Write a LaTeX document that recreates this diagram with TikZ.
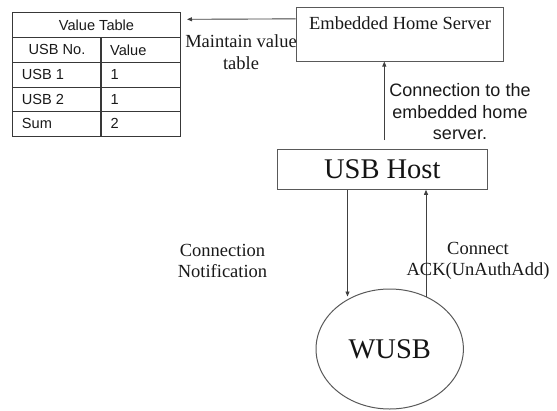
\documentclass[tikz,border=0pt]{standalone}
\usepackage{fontspec}
\setmainfont{Liberation Serif}
\newfontfamily\arial{Liberation Sans}
\usetikzlibrary{arrows.meta,shapes.geometric}

\begin{document}
\begin{tikzpicture}[x=1pt,y=-1pt,
  line/.style={draw=black!65,line width=1pt},
  grid/.style={draw=black!78,line width=1.2pt},
  box/.style={line,rectangle,inner sep=0pt},
  arr/.style={draw=black!75,line width=0.9pt,-{Triangle[length=5pt,width=4pt]}},
  serif/.style={font=\fontsize{18.5}{21.5}\selectfont,text=black!90,align=center,inner sep=0pt},
  sans/.style={font=\arial\fontsize{18}{21.7}\selectfont,text=black!90,align=center,inner sep=0pt},
  big/.style={font=\fontsize{28.5}{32}\selectfont,text=black!92,inner sep=0pt},
  cell/.style={font=\arial\fontsize{14.6}{16}\selectfont,text=black!90,inner sep=0pt}]
\useasboundingbox (0,0) rectangle (557,410);

% value table
\node[inner sep=0pt,minimum width=167.3pt,minimum height=123.3pt] (vt) at (96.35,74.35) {};
\draw[grid] (vt.north west) rectangle (vt.south east);
\draw[grid] (12.7,37.3) -- (180,37.3)
            (12.7,62.3) -- (180,62.3)
            (12.7,87.3) -- (180,87.3)
            (12.7,111.7) -- (180,111.7)
            (101,37.3) -- (101,136);
\node[cell] (title) at (96.5,25) {Value Table};
\node[cell] (h1) at (57,49.8) {USB No.};
\node[cell,anchor=west] (h2) at (110,49.8) {Value};
\node[cell,anchor=west] (r1a) at (21.7,74.8) {USB 1};
\node[cell,anchor=west] (r1b) at (110.5,74.8) {1};
\node[cell,anchor=west] (r2a) at (21.7,99.5) {USB 2};
\node[cell,anchor=west] (r2b) at (110.5,99.5) {1};
\node[cell,anchor=west] (r3a) at (21.7,123.8) {Sum};
\node[cell,anchor=west] (r3b) at (110.5,123.8) {2};

% server, host and wireless device
\node[box,minimum width=207pt,minimum height=53.7pt] (server) at (399.7,34.2) {};
\node[serif] (servertxt) at (400,23.5) {Embedded Home Server};
\node[box,big,minimum width=210pt,minimum height=40pt] (host) at (382.3,169.3) {USB Host};
\node[line,ellipse,big,minimum width=147.4pt,minimum height=120pt] (wusb) at (389.7,349) {WUSB};

% connectors
\coordinate (tabtip) at (187,19.3);
\draw[arr] ([yshift=-12pt]server.north west) -- (tabtip);
\coordinate (hostup) at (384.3,140);
\draw[arr] (hostup) -- (hostup |- server.south);
\coordinate (notetip) at (347.5,296.5);
\draw[arr] (notetip |- host.south) -- (notetip);
\coordinate (ackfoot) at (426,297);
\draw[arr] (ackfoot) -- (ackfoot |- host.south);

% labels
\node[serif] (maintain) at (241,52.3) {Maintain value\\table};
\node[sans] (conn) at (460,111.7) {Connection to the\\embedded home\\server.};
\node[serif] (notify) at (222.5,261) {Connection\\Notification};
\node[serif] (ack) at (478,261) {Connect\\ACK(UnAuthAdd)};
\end{tikzpicture}
\end{document}
